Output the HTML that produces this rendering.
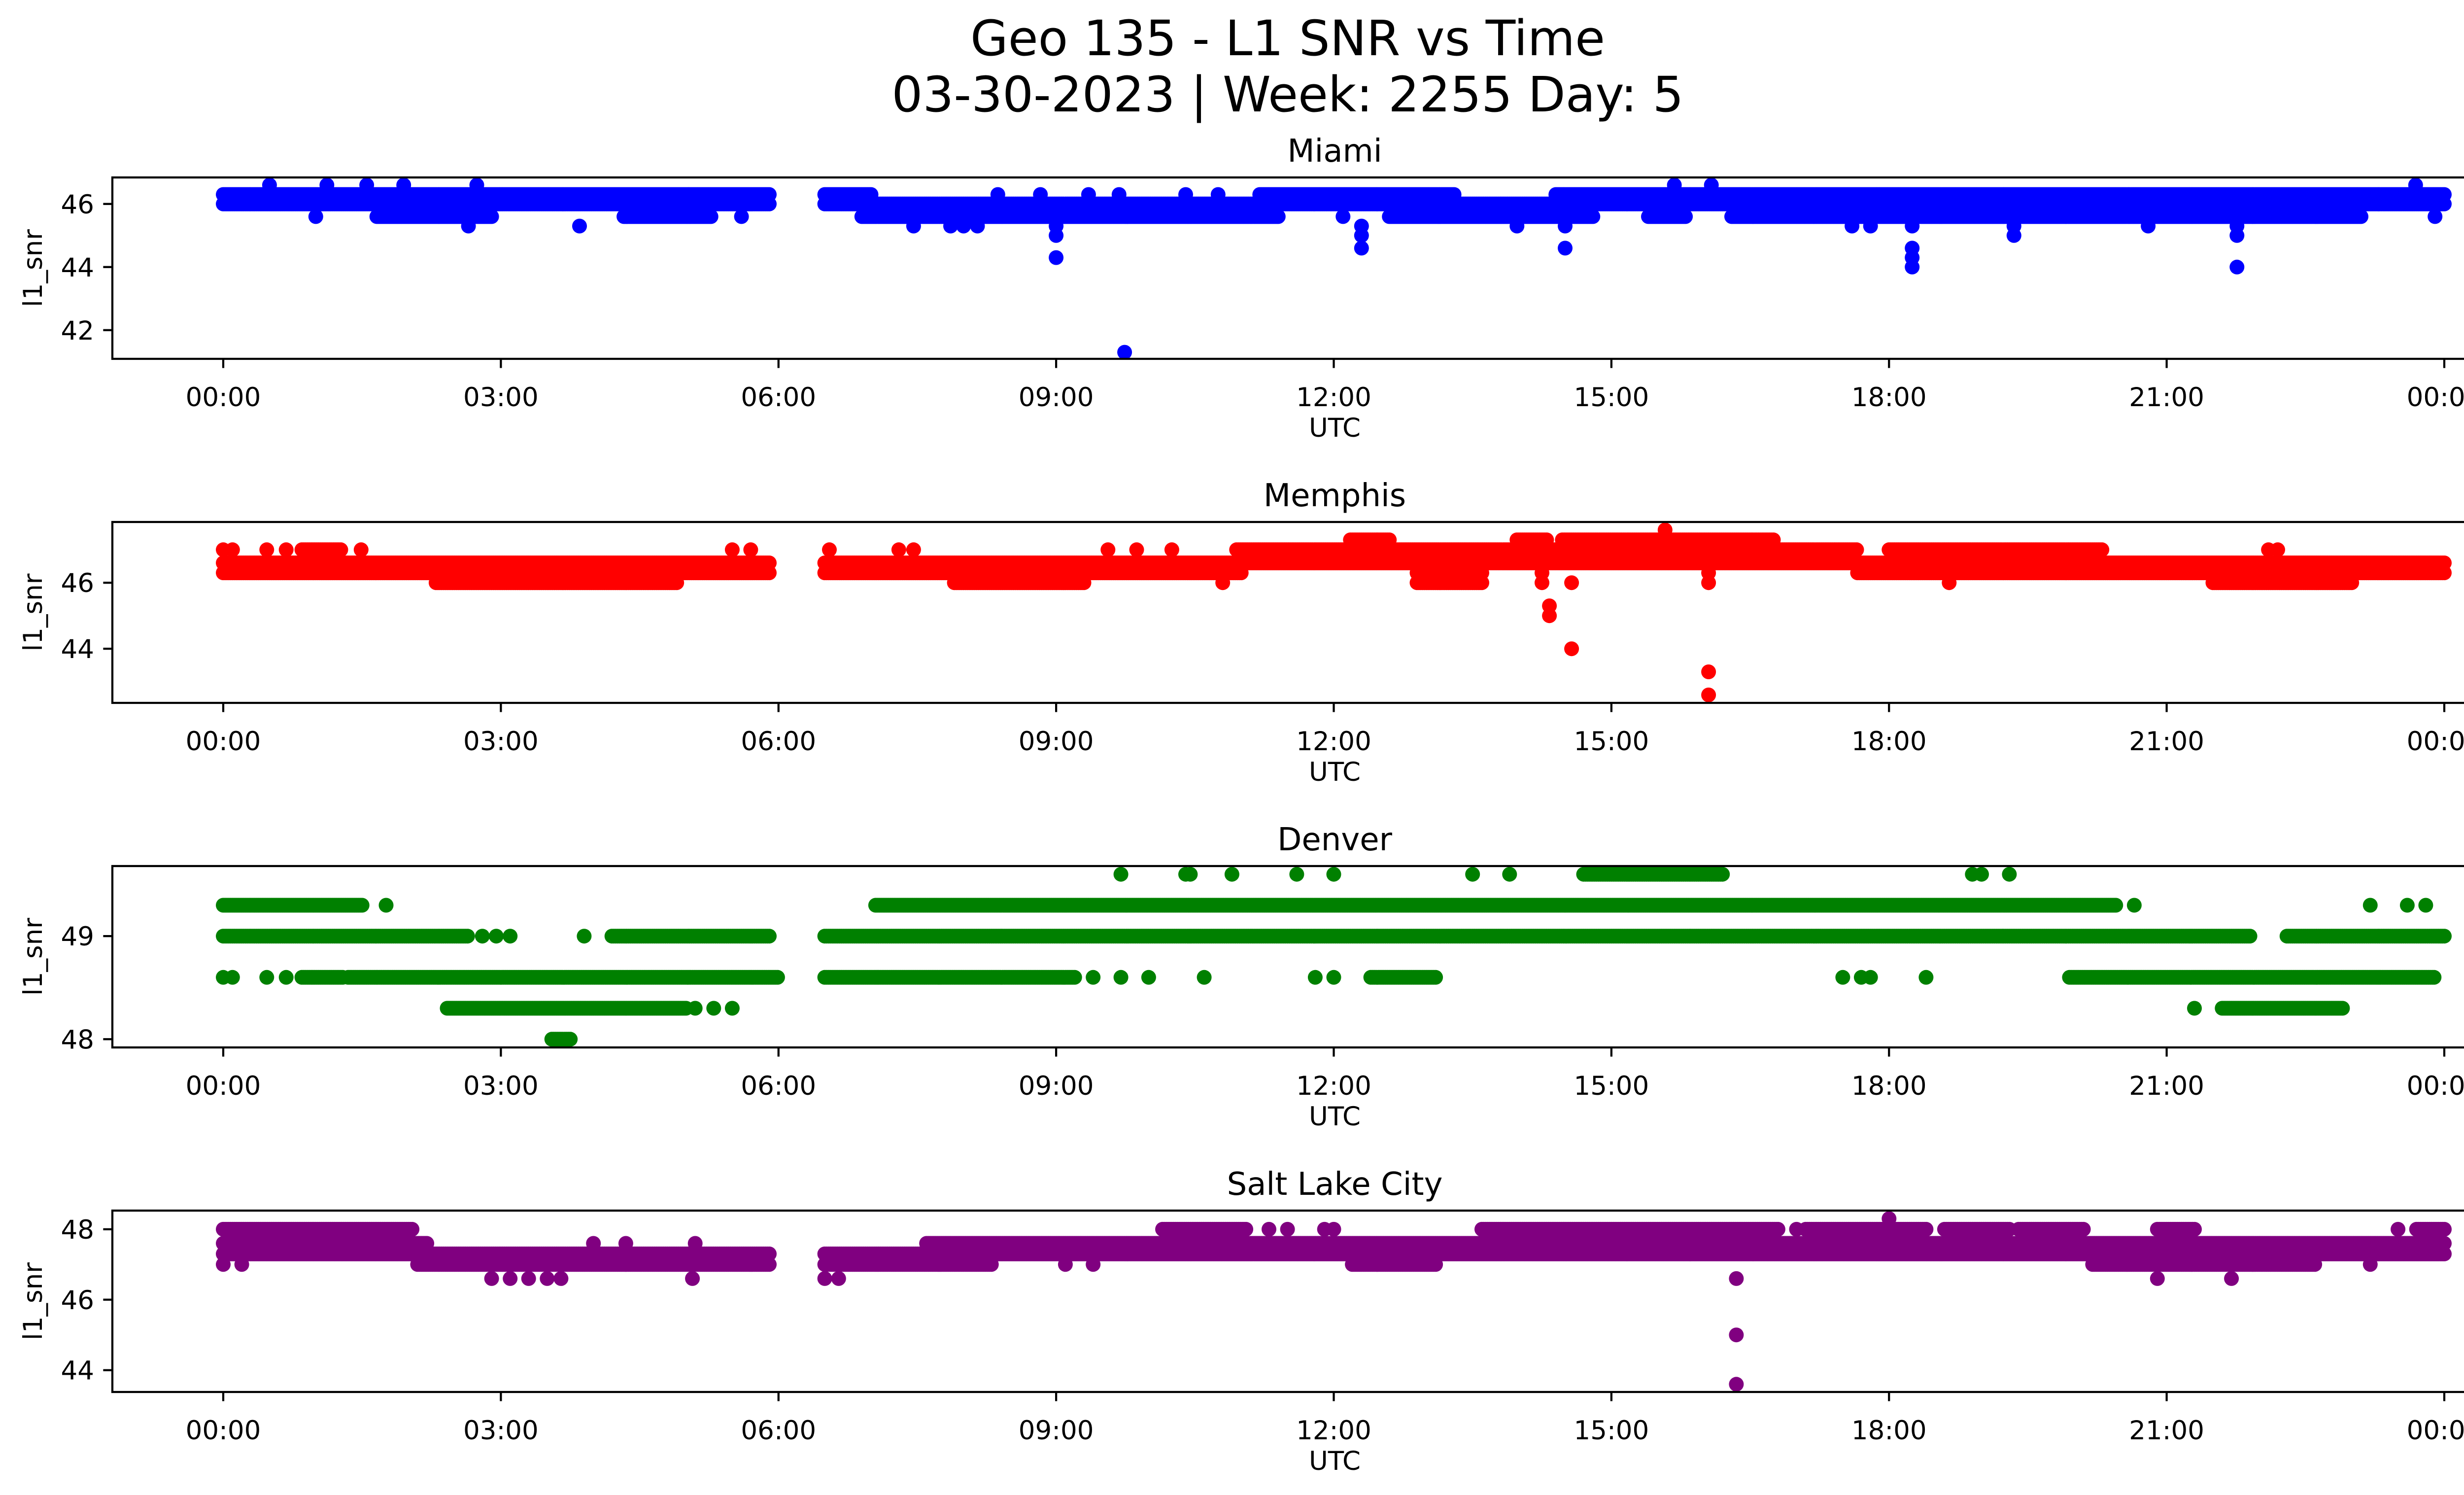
<!DOCTYPE html>
<html><head><meta charset="utf-8"><style>
html,body{margin:0;padding:0;background:#fff}
svg{display:block}
text{font-family:"DejaVu Sans","Liberation Sans",sans-serif;fill:#000}
</style></head><body>
<svg id="fig" width="5226" height="3033" viewBox="0 0 5226 3033" xmlns="http://www.w3.org/2000/svg">
<rect x="0" y="0" width="5226" height="3033" fill="#fff"/>
<text x="2613" y="112" font-size="99" text-anchor="middle">Geo 135 - L1 SNR vs Time</text>
<text x="2613" y="226" font-size="99" text-anchor="middle">03-30-2023 | Week: 2255 Day: 5</text>
<g id="plots"></g>
</svg>
<script>
// x tick labels (hours) and labels
const xTickHours = [0,3,6,9,12,15,18,21,24];
const xTickLabels = ["00:00","03:00","06:00","09:00","12:00","15:00","18:00","21:00","00:00"];

// Miami
const miamiRuns = [[0,5.9,46.3],[0,5.9,46.0],[6.5,7.0,46.3],[6.5,24,46.0],[11.2,13.3,46.3],[14.4,24,46.3],
 [1.66,2.9,45.6],[4.33,5.27,45.6],[6.9,11.4,45.6],[12.6,14.8,45.6],[15.4,15.8,45.6],[16.3,23.1,45.6]];
const miamiPoints = [[8.37,46.3],[8.83,46.3],[9.35,46.3],[9.68,46.3],[10.4,46.3],[10.75,46.3],
 [1.0,45.6],[5.6,45.6],[12.1,45.6],[23.9,45.6],
 [0.5,46.6],[1.12,46.6],[1.55,46.6],[1.95,46.6],[2.74,46.6],[15.68,46.6],[16.08,46.6],[23.69,46.6],
 [2.65,45.3],[3.85,45.3],[7.46,45.3],[7.86,45.3],[8.0,45.3],[8.15,45.3],[9.0,45.3],[12.3,45.3],[13.98,45.3],[14.5,45.3],[17.6,45.3],[17.8,45.3],[18.25,45.3],[19.35,45.3],[20.8,45.3],[21.76,45.3],
 [9.0,45.0],[12.3,45.0],[19.35,45.0],[21.76,45.0],
 [12.3,44.6],[14.5,44.6],[18.25,44.6],[9.0,44.3],[18.25,44.3],[18.25,44.0],[21.76,44.0],[9.74,41.3]];
const miamiTicks = [42,44,46];

// Memphis
const memphisRuns = [[0,5.9,46.6],[6.5,24,46.6],[0,5.9,46.3],[6.5,11.0,46.3],[12.9,13.6,46.3],[17.66,24,46.3],
 [0.85,1.27,47.0],[10.95,17.66,47.0],[18.0,20.3,47.0],
 [2.3,4.9,46.0],[7.9,9.3,46.0],[12.9,13.6,46.0],[21.5,23.0,46.0],
 [12.18,12.6,47.3],[13.98,14.3,47.3],[14.47,16.76,47.3]];
const memphisPoints = [[0.0,47.0],[0.1,47.0],[0.47,47.0],[0.68,47.0],[1.49,47.0],[5.5,47.0],[5.7,47.0],[6.55,47.0],[7.3,47.0],[7.46,47.0],[9.56,47.0],[9.87,47.0],[10.25,47.0],[22.1,47.0],[22.2,47.0],
 [10.8,46.0],[14.25,46.0],[14.57,46.0],[16.05,46.0],[18.65,46.0],[14.25,46.3],[16.05,46.3],
 [14.33,45.3],[14.33,45.0],[14.57,44.0],[16.05,43.3],[16.05,42.6],[15.58,47.6]];
const memphisTicks = [44,46];

// Denver
const denverRuns = [[0,1.5,49.3],[7.05,20.45,49.3],
 [0,2.64,49.0],[4.2,5.9,49.0],[6.5,21.9,49.0],[22.3,24,49.0],
 [0.85,1.3,48.6],[1.35,6.0,48.6],[6.5,9.2,48.6],[12.4,13.1,48.6],[19.95,23.9,48.6],
 [2.42,5.0,48.3],[21.6,22.9,48.3],[3.55,3.75,48.0],[14.7,16.2,49.6]];
const denverPoints = [[1.76,49.3],[20.65,49.3],[23.2,49.3],[23.6,49.3],[23.8,49.3],
 [2.8,49.0],[2.95,49.0],[3.1,49.0],[3.9,49.0],
 [0,48.6],[0.1,48.6],[0.47,48.6],[0.68,48.6],[9.4,48.6],[9.7,48.6],[10.0,48.6],[10.6,48.6],[11.8,48.6],[12.0,48.6],[17.5,48.6],[17.7,48.6],[17.8,48.6],[18.4,48.6],
 [5.1,48.3],[5.3,48.3],[5.5,48.3],[21.3,48.3],
 [9.7,49.6],[10.4,49.6],[10.45,49.6],[10.9,49.6],[11.6,49.6],[12.0,49.6],[13.5,49.6],[13.9,49.6],[18.9,49.6],[19.0,49.6],[19.3,49.6]];
const denverTicks = [48,49];

// Salt Lake City
const slcRuns = [[0,2.05,48.0],[10.15,11.05,48.0],[13.6,16.8,48.0],[17.1,18.4,48.0],[18.6,19.3,48.0],[19.4,20.1,48.0],[20.9,21.3,48.0],[23.7,24,48.0],
 [0,2.2,47.6],[7.6,24,47.6],[0,5.9,47.3],[6.5,24,47.3],
 [2.1,5.9,47.0],[6.5,8.3,47.0],[12.2,13.1,47.0],[20.2,22.6,47.0]];
const slcPoints = [[11.3,48.0],[11.5,48.0],[11.9,48.0],[12.0,48.0],[17.0,48.0],[23.5,48.0],
 [4.0,47.6],[4.35,47.6],[5.1,47.6],[0.0,47.0],[0.2,47.0],[9.1,47.0],[9.4,47.0],[23.2,47.0],
 [2.9,46.6],[3.1,46.6],[3.3,46.6],[3.5,46.6],[3.65,46.6],[5.07,46.6],[6.5,46.6],[6.65,46.6],[16.35,46.6],[20.9,46.6],[21.7,46.6],
 [18.0,48.3],[16.35,45.0],[16.35,43.6]];
const slcTicks = [44,46,48];

const panels = [
 {name:"miami",title:"Miami",color:"#0000ff",runs:miamiRuns,points:miamiPoints,ticks:miamiTicks,top:360,bottom:728,ymin:41.09,ymax:46.84},
 {name:"memphis",title:"Memphis",color:"#ff0000",runs:memphisRuns,points:memphisPoints,ticks:memphisTicks,top:1059,bottom:1426,ymin:42.36,ymax:47.84},
 {name:"denver",title:"Denver",color:"#008000",runs:denverRuns,points:denverPoints,ticks:denverTicks,top:1757,bottom:2125,ymin:47.92,ymax:49.68},
 {name:"salt-lake-city",title:"Salt Lake City",color:"#800080",runs:slcRuns,points:slcPoints,ticks:slcTicks,top:2456,bottom:2824,ymin:43.38,ymax:48.53}
];
const LEFT=228, RIGHT=5189, X0=453, X24=4960;
const NS="http://www.w3.org/2000/svg";
function xScale(h){return X0+(X24-X0)*h/24;}
function mk(tag,attrs,parent){const e=document.createElementNS(NS,tag);for(const k in attrs)e.setAttribute(k,attrs[k]);parent.appendChild(e);return e;}
const root=document.getElementById('plots');
panels.forEach(p=>{
  const yScale=v=>p.bottom-(v-p.ymin)/(p.ymax-p.ymin)*(p.bottom-p.top);
  const g=mk('g',{},root);
  
  
  const t=mk('text',{x:(LEFT+RIGHT)/2,y:p.top-32,'font-size':64,'text-anchor':'middle'},g);
  t.textContent=p.title;
  
  
  const mg=mk('g',{fill:p.color},g);
  
  
  const pts=[];
  p.runs.forEach(r=>{for(let h=r[0];h<=r[1]+1e-9;h+=0.02)pts.push([h,r[2]]);});
  p.points.forEach(q=>pts.push(q));
  pts.forEach(q=>{
    const c=mk('circle',{cx:xScale(q[0]).toFixed(1),cy:yScale(q[1]).toFixed(1),r:15},mg);
    
    
  });
  const frame=mk('rect',{x:LEFT,y:p.top,width:RIGHT-LEFT,height:p.bottom-p.top,fill:'none',stroke:'#000','stroke-width':4.25},g);
  
  
  xTickHours.forEach((h,i)=>{
    const x=xScale(h);
    const tk=mk('line',{x1:x,x2:x,y1:p.bottom,y2:p.bottom+18.6,stroke:'#000','stroke-width':4.25},g);
    
    
    const lb=mk('text',{x:x,y:p.bottom+96,'font-size':53,'text-anchor':'middle'},g);
    lb.textContent=xTickLabels[i];
    
    
  });
  p.ticks.forEach(v=>{
    const y=yScale(v);
    const tk=mk('line',{x1:LEFT-18.6,x2:LEFT,y1:y,y2:y,stroke:'#000','stroke-width':4.25},g);
    
    
    const lb=mk('text',{x:LEFT-37,y:y+19,'font-size':53,'text-anchor':'end'},g);
    lb.textContent=String(v);
    
    
  });
  const xl=mk('text',{x:(LEFT+RIGHT)/2,y:p.bottom+158,'font-size':53,'text-anchor':'middle'},g);
  xl.textContent='UTC';
  
  
  const cy=(p.top+p.bottom)/2;
  const yl=mk('text',{x:85,y:cy,'font-size':53,'text-anchor':'middle',transform:`rotate(-90 85 ${cy})`},g);
  yl.textContent='l1_snr';
  
  
});
</script>
</body></html>
